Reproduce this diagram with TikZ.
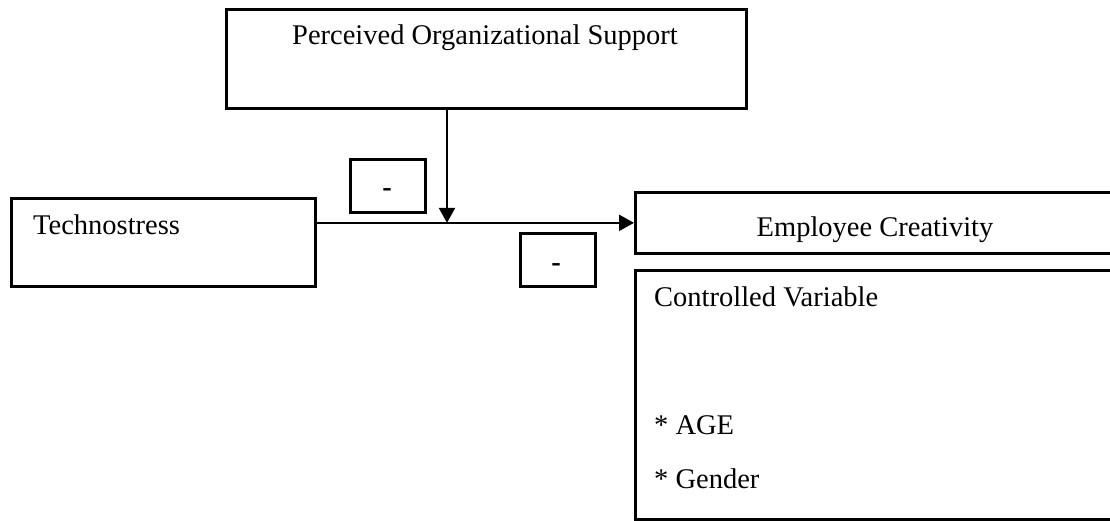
\documentclass[tikz,border=0pt]{standalone}
\usepackage{fontspec}
\setmainfont{Liberation Serif}
\usetikzlibrary{arrows.meta}
\begin{document}
\begin{tikzpicture}[x=1pt,y=-1pt,
  box/.style={draw, line width=2.7pt, inner sep=0pt, anchor=north west},
  lbl/.style={font=\fontsize{28.5}{34}\selectfont, inner sep=0pt, anchor=base west},
  sign/.style={font=\fontsize{28.5}{34}\selectfont\bfseries, inner sep=0pt, anchor=base},
  conn/.style={line width=2.2pt, -{Triangle[length=15pt,width=16pt]}}]
\useasboundingbox (0,0) rectangle (1110,520);
\clip (0,0) rectangle (1110,520);

% boxes
\node[box, minimum width=520pt, minimum height=99pt]  (pos)  at (225,8)   {};
\node[box, minimum width=304pt, minimum height=88pt]  (tech) at (10,197)  {};
\node[box, minimum width=75pt,  minimum height=53pt]  (m1)   at (349,158) {};
\node[box, minimum width=75pt,  minimum height=53pt]  (m2)   at (519,232) {};
\node[box, minimum width=482pt, minimum height=61pt]  (emp)  at (634,191) {};
\node[box, minimum width=482pt, minimum height=249pt] (ctrl) at (634,269) {};

% texts
\node[lbl, anchor=base] (posT) at (485,44) {Perceived Organizational Support};
\node[lbl] (techT) at (33,234) {Technostress};
\node[lbl, anchor=base] (empT) at (875,236) {Employee Creativity};
\node[lbl] (ctrlT) at (654,306) {Controlled Variable};
\node[lbl] (ageT)  at (654,434) {* AGE};
\node[lbl] (genT)  at (654,488) {* Gender};
\node[sign] (s1) at (387,196) {-};
\node[sign] (s2) at (556,271) {-};

% connectors
\coordinate (j) at (447,223);
\draw[conn] (tech.east |- emp.west) -- (emp.west);
\draw[conn] (pos.south -| j) -- (j |- emp.west);
\end{tikzpicture}
\end{document}
